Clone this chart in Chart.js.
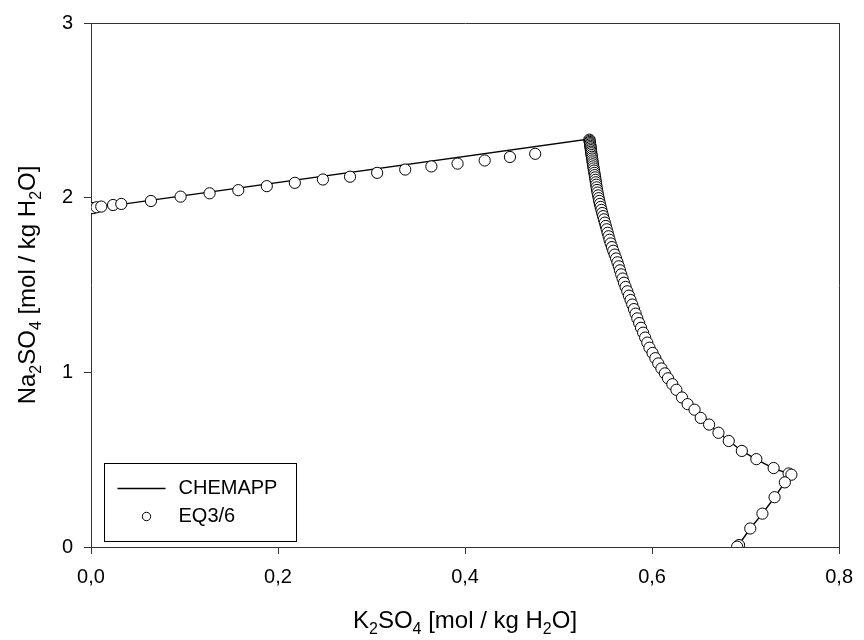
<!DOCTYPE html>
<html>
<head>
<meta charset="utf-8">
<script src="https://cdn.jsdelivr.net/npm/chart.js@4"></script>
<style>
html,body{margin:0;padding:0;background:#fff;}
#wrap{width:864px;height:640px;position:relative;}
</style>
</head>
<body>
<div id="wrap"><canvas id="c" width="864" height="640"></canvas></div>
<script>
// ---- data ----
const chemK2SO4 = [0.000, 0.5326, 0.535, 0.538, 0.541, 0.545, 0.550, 0.555, 0.562, 0.568, 0.575, 0.582, 0.590, 0.598, 0.607, 0.619, 0.633, 0.650, 0.672, 0.696, 0.712, 0.730, 0.7490, 0.742, 0.731, 0.718, 0.705, 0.691];
const chemNa2SO4 = [1.937, 2.336, 2.250, 2.150, 2.050, 1.950, 1.850, 1.750, 1.650, 1.550, 1.450, 1.350, 1.250, 1.150, 1.050, 0.950, 0.850, 0.750, 0.650, 0.550, 0.500, 0.450, 0.414, 0.370, 0.285, 0.191, 0.106, 0.000];

const eqK2SO4 = [
  0.000, 0.0025, 0.006, 0.011, 0.0236, 0.0324, 0.0641, 0.0958, 0.1268, 0.1575, 0.188, 0.218, 0.248, 0.277, 0.306, 0.336, 0.364, 0.392, 0.421, 0.448, 0.475,
  0.5330, 0.5332, 0.5334, 0.5336, 0.5338, 0.5340, 0.5342, 0.5344, 0.5346, 0.5348, 0.5350, 0.5353, 0.5356, 0.5359, 0.5362, 0.5365, 0.5368, 0.5371, 0.5375, 0.5379,
  0.5383, 0.5387, 0.5391, 0.5395, 0.5399, 0.5403, 0.5407, 0.5412, 0.5417, 0.5423, 0.5429, 0.5435, 0.5442, 0.5450, 0.5458, 0.5467, 0.5476, 0.5485, 0.5495, 0.5505,
  0.5515, 0.5525, 0.5535, 0.5545, 0.5557, 0.5571, 0.5585, 0.5600, 0.5615, 0.5630, 0.5644, 0.5657, 0.5670, 0.5685, 0.5700, 0.5717, 0.5735, 0.5752, 0.5770, 0.5788,
  0.5806, 0.5824, 0.5842, 0.5862, 0.5882, 0.5904, 0.5926, 0.5949, 0.5972, 0.6005, 0.6035, 0.6066, 0.6100, 0.6137, 0.6170, 0.6217, 0.6260, 0.6320, 0.6380, 0.6454,
  0.6520, 0.6610, 0.6710, 0.6820, 0.6960, 0.7115, 0.7300, 0.7460, 0.7490, 0.7420, 0.7310, 0.7180, 0.7050, 0.6930, 0.6910
];
const eqNa2SO4 = [
  1.940, 1.940, 1.945, 1.949, 1.958, 1.964, 1.981, 2.006, 2.025, 2.043, 2.066, 2.085, 2.104, 2.120, 2.142, 2.161, 2.179, 2.195, 2.213, 2.233, 2.251,
  2.332, 2.326, 2.319, 2.312, 2.305, 2.297, 2.289, 2.281, 2.272, 2.263, 2.254, 2.244, 2.234, 2.224, 2.213, 2.202, 2.191, 2.179, 2.167, 2.155,
  2.142, 2.129, 2.116, 2.102, 2.088, 2.074, 2.059, 2.044, 2.029, 2.013, 1.997, 1.981, 1.964, 1.947, 1.930, 1.912, 1.894, 1.876, 1.857, 1.838,
  1.819, 1.799, 1.779, 1.759, 1.738, 1.717, 1.696, 1.674, 1.652, 1.630, 1.607, 1.584, 1.561, 1.537, 1.513, 1.489, 1.464, 1.439, 1.414, 1.388,
  1.362, 1.336, 1.309, 1.282, 1.255, 1.227, 1.199, 1.170, 1.141, 1.111, 1.081, 1.051, 1.022, 0.994, 0.966, 0.932, 0.900, 0.856, 0.818, 0.786,
  0.739, 0.701, 0.654, 0.607, 0.550, 0.503, 0.452, 0.421, 0.414, 0.370, 0.285, 0.191, 0.106, 0.011, 0.002
];

const xTickLabels = ['0,0', '0,2', '0,4', '0,6', '0,8'];
const yTickLabels = ['0', '1', '2', '3'];
const seriesNames = ['CHEMAPP', 'EQ3/6'];
const xTitleParts = [['K',0],['2',1],['SO',0],['4',1],[' [mol / kg H',0],['2',1],['O]',0]];
const yTitleParts = [['Na',0],['2',1],['SO',0],['4',1],[' [mol / kg H',0],['2',1],['O]',0]];

// ---- build ----
const FONT = '"Liberation Sans", Arial, sans-serif';
const AX = '#333333';
const toPts = (xs, ys) => xs.map((x, i) => ({x: x, y: ys[i]}));

function drawRich(ctx, parts, x, y, size, subSize, subShift) {
  let w = 0;
  parts.forEach(p => { ctx.font = (p[1] ? subSize : size) + 'px ' + FONT; w += ctx.measureText(p[0]).width; });
  let cx = x - w / 2;
  ctx.textBaseline = 'alphabetic';
  ctx.textAlign = 'left';
  parts.forEach(p => {
    ctx.font = (p[1] ? subSize : size) + 'px ' + FONT;
    ctx.fillText(p[0], cx, y + (p[1] ? subShift : 0));
    cx += ctx.measureText(p[0]).width;
  });
}

const extras = {
  id: 'extras',
  afterDraw(chart) {
    const ctx = chart.ctx;
    const a = chart.chartArea;
    ctx.save();
    ctx.fillStyle = '#000';
    // x title
    drawRich(ctx, xTitleParts, (a.left + a.right) / 2, 628, 24, 16, 6);
    // y title
    ctx.save();
    ctx.translate(35, (a.top + a.bottom) / 2);
    ctx.rotate(-Math.PI / 2);
    drawRich(ctx, yTitleParts, 0, 0, 24, 16, 6);
    ctx.restore();
    // legend
    const lx = a.left + 13.5, ly = a.top + 440.5;
    ctx.strokeStyle = '#000';
    ctx.lineWidth = 1;
    ctx.strokeRect(lx, ly, 192, 78);
    ctx.lineWidth = 1.3;
    ctx.beginPath();
    ctx.moveTo(lx + 13, ly + 25);
    ctx.lineTo(lx + 61, ly + 25);
    ctx.stroke();
    ctx.lineWidth = 1;
    ctx.beginPath();
    ctx.arc(lx + 42, ly + 53, 4.2, 0, Math.PI * 2);
    ctx.fillStyle = '#fff';
    ctx.fill();
    ctx.stroke();
    ctx.fillStyle = '#000';
    ctx.font = '20px ' + FONT;
    ctx.textBaseline = 'middle';
    ctx.textAlign = 'left';
    ctx.fillText(seriesNames[0], lx + 74, ly + 25);
    ctx.fillText(seriesNames[1], lx + 74, ly + 53);
    ctx.restore();
  }
};

new Chart(document.getElementById('c'), {
  type: 'scatter',
  data: {
    datasets: [
      {
        label: seriesNames[0],
        data: toPts(chemK2SO4, chemNa2SO4),
        showLine: true,
        borderColor: '#000',
        borderWidth: 1.4,
        pointRadius: 0,
        fill: false,
        tension: 0,
        order: 1
      },
      {
        label: seriesNames[1],
        data: toPts(eqK2SO4, eqNa2SO4),
        showLine: false,
        borderColor: '#000',
        backgroundColor: '#fff',
        pointBackgroundColor: '#fff',
        pointBorderColor: '#000',
        pointBorderWidth: 1,
        pointRadius: 5.6,
        order: 0
      }
    ]
  },
  options: {
    responsive: false,
    animation: false,
    devicePixelRatio: 1,
    layout: {padding: {left: 0, top: 18, right: 17, bottom: 0}},
    plugins: {legend: {display: false}, tooltip: {enabled: false}},
    scales: {
      x: {
        type: 'linear', position: 'bottom', min: 0, max: 0.8,
        afterFit: s => { s.height = 93; },
        border: {display: true, color: AX, width: 1},
        grid: {display: true, drawOnChartArea: false, drawTicks: true, tickLength: 7, color: AX, lineWidth: 1},
        ticks: {
          stepSize: 0.2, padding: 11, color: '#000', font: {family: FONT, size: 20},
          maxRotation: 0, autoSkip: false,
          callback: v => xTickLabels[Math.round(v / 0.2)]
        }
      },
      y: {
        type: 'linear', position: 'left', min: 0, max: 3,
        afterFit: s => { s.width = 91; },
        border: {display: true, color: AX, width: 1},
        grid: {display: true, drawOnChartArea: false, drawTicks: true, tickLength: 7, color: AX, lineWidth: 1},
        ticks: {
          stepSize: 1, padding: 11, color: '#000', font: {family: FONT, size: 20},
          callback: v => yTickLabels[Math.round(v)]
        }
      },
      x2: {
        type: 'linear', position: 'top', min: 0, max: 0.8,
        afterFit: s => { s.height = 0; },
        border: {display: true, color: AX, width: 1},
        grid: {display: false}, ticks: {display: false}
      },
      y2: {
        type: 'linear', position: 'right', min: 0, max: 3,
        afterFit: s => { s.width = 0; },
        border: {display: true, color: AX, width: 1},
        grid: {display: false}, ticks: {display: false}
      }
    }
  },
  plugins: [extras]
});
</script>
</body>
</html>
